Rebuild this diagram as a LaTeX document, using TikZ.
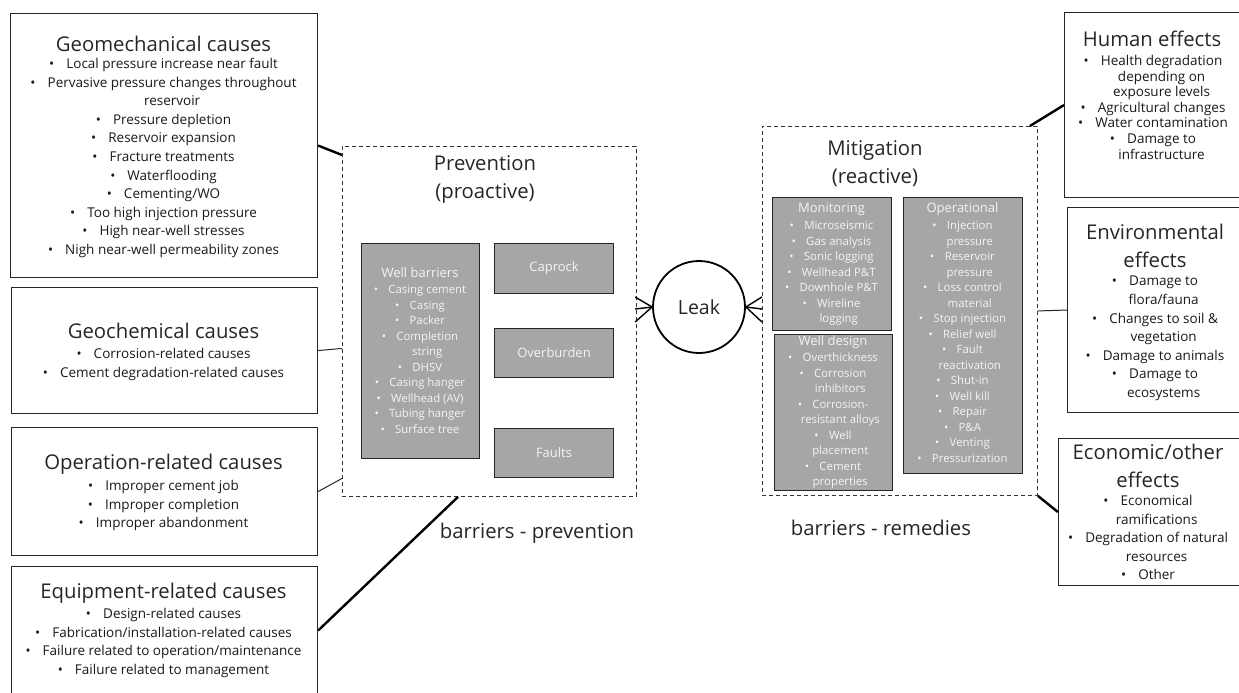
\documentclass[tikz,border=0pt]{standalone}
\usepackage{fontspec}
\setmainfont{Open Sans}
\definecolor{boxgray}{HTML}{A6A6A6}
\definecolor{boxtext}{HTML}{F4F4F4}
\newcommand{\bl}{\textbullet\hspace{0.9em}}
\newcommand{\cn}{\phantom{\bl}}

\begin{document}
\begin{tikzpicture}[x=1pt,y=-1pt,
  causebox/.style={draw=black!85, line width=1.1pt, anchor=north west, inner sep=0pt},
  dashbox/.style={draw=black!80, line width=0.9pt, dash pattern=on 4pt off 3pt, anchor=north west, inner sep=0pt},
  barrierbox/.style={draw=black!85, fill=boxgray, line width=1pt, anchor=north west, inner sep=0pt,
    text=boxtext, font=\fontsize{13}{16}\selectfont},
  headtxt/.style={font=\fontsize{20.3}{28}\selectfont, text=black!85, align=center, inner sep=0pt},
  listtxt/.style={font=\fontsize{13.5}{18.6}\selectfont, text=black!90, align=center, anchor=north, inner sep=0pt},
  graytitle/.style={font=\fontsize{13}{16}\selectfont, text=boxtext, inner sep=0pt},
  graylist/.style={font=\fontsize{11.4}{15.5}\selectfont, text=boxtext, align=center, anchor=north, inner sep=0pt},
  thinlink/.style={draw=black!85, line width=1pt},
  thicklink/.style={draw=black, line width=2.4pt},
  foot/.style={draw=black, line width=1.4pt}]
\useasboundingbox (0,0) rectangle (1239,693);

% Causes (left)
\node[causebox, minimum width=307pt, minimum height=264pt] (geomech) at (10,13) {};
\node[headtxt] at (163.5,44) {Geomechanical causes};
\node[listtxt] at (163.5,58) {\bl Local pressure increase near fault\\
  \bl Pervasive pressure changes throughout\\ \cn reservoir\\ \bl Pressure depletion\\
  \bl Reservoir expansion\\ \bl Fracture treatments\\ \bl Waterflooding\\ \bl Cementing/WO\\
  \bl Too high injection pressure\\ \bl High near-well stresses\\ \bl Nigh near-well permeability zones};

\node[causebox, minimum width=306pt, minimum height=126pt] (geochem) at (11,287) {};
\node[headtxt] at (163.5,331) {Geochemical causes};
\node[listtxt] at (163.5,348) {\bl Corrosion-related causes\\ \bl Cement degradation-related causes};

\node[causebox, minimum width=306pt, minimum height=128pt] (operation) at (11,427) {};
\node[headtxt] at (163.5,464) {Operation-related causes};
\node[listtxt] at (163.5,480) {\bl Improper cement job\\ \bl Improper completion\\ \bl Improper abandonment};

\node[causebox, minimum width=306pt, minimum height=128pt] (equipment) at (11,566) {};
\node[headtxt] at (163.5,593) {Equipment-related causes};
\node[listtxt] at (163.5,608) {\bl Design-related causes\\ \bl Fabrication/installation-related causes\\
  \bl Failure related to operation/maintenance\\ \bl Failure related to management};

% Prevention
\node[dashbox, minimum width=294pt, minimum height=350pt] (prevention) at (342,146) {};
\node[headtxt] at (485,179) {Prevention\\(proactive)};
\node[barrierbox, minimum width=118pt, minimum height=215pt] (wellbar) at (361,243) {};
\node[graytitle] at (420,273) {Well barriers};
\node[graylist] at (420,285) {\bl Casing cement\\ \bl Casing\\ \bl Packer\\ \bl Completion\\ \cn string\\
  \bl DHSV\\ \bl Casing hanger\\ \bl Wellhead (AV)\\ \bl Tubing hanger\\ \bl Surface tree};
\node[barrierbox, minimum width=119pt, minimum height=50pt] (caprock) at (494,243) {Caprock};
\node[barrierbox, minimum width=119pt, minimum height=49pt] (overburden) at (494,328) {Overburden};
\node[barrierbox, minimum width=119pt, minimum height=49pt] (faults) at (494,428) {Faults};
\node[font=\fontsize{20.3}{22}\selectfont, text=black!85] (prevlabel) at (537,533) {barriers - prevention};

% Leak
\node[circle, draw, line width=1.8pt, minimum size=92pt, inner sep=0pt,
  font=\fontsize{19.5}{22}\selectfont, text=black!85] (leak) at (699,307) {Leak};

% Mitigation
\node[dashbox, minimum width=275pt, minimum height=369pt] (mitigation) at (762,126) {};
\node[headtxt] at (875,164) {Mitigation\\(reactive)};
\node[barrierbox, minimum width=119pt, minimum height=133pt] (monitoring) at (772,197) {};
\node[graytitle] at (831.5,209) {Monitoring};
\node[graylist] at (831.5,221) {\bl Microseismic\\ \bl Gas analysis\\ \bl Sonic logging\\
  \bl Wellhead P\&T\\ \bl Downhole P\&T\\ \bl Wireline\\ \cn logging};
\node[barrierbox, minimum width=118pt, minimum height=156pt] (welldesign) at (774,334) {};
\node[graytitle] at (833,342) {Well design};
\node[graylist] at (833,353) {\bl Overthickness\\ \bl Corrosion\\ \cn inhibitors\\ \bl Corrosion-\\
  \cn resistant alloys\\ \bl Well\\ \cn placement\\ \bl Cement\\ \cn properties};
\node[barrierbox, minimum width=119pt, minimum height=276pt] (operational) at (903,197) {};
\node[graytitle] at (962.5,209) {Operational};
\node[graylist] at (962.5,221) {\bl Injection\\ \cn pressure\\ \bl Reservoir\\ \cn pressure\\ \bl Loss control\\
  \cn material\\ \bl Stop injection\\ \bl Relief well\\ \bl Fault\\ \cn reactivation\\ \bl Shut-in\\
  \bl Well kill\\ \bl Repair\\ \bl P\&A\\ \bl Venting\\ \bl Pressurization};
\node[font=\fontsize{20.3}{22}\selectfont, text=black!85] (mitlabel) at (881,528) {barriers - remedies};

% Effects (right)
\node[causebox, minimum width=178pt, minimum height=185pt] (human) at (1064,12) {};
\node[headtxt] at (1152,39) {Human effects};
\node[listtxt, font=\fontsize{13.5}{15.6}\selectfont] at (1153,55) {\bl Health degradation\\
  \cn depending on\\ \cn exposure levels\\ \bl Agricultural changes\\ \bl Water contamination\\
  \bl Damage to\\ \cn infrastructure};

\node[causebox, minimum width=175pt, minimum height=205pt] (environment) at (1067,207) {};
\node[headtxt] at (1155,246) {Environmental\\effects};
\node[listtxt] at (1155,276) {\bl Damage to\\ \cn flora/fauna\\ \bl Changes to soil \&\\ \cn vegetation\\
  \bl Damage to animals\\ \bl Damage to\\ \cn ecosystems};

\node[causebox, minimum width=184pt, minimum height=147pt] (economic) at (1058,438) {};
\node[headtxt] at (1148,466) {Economic/other\\effects};
\node[listtxt] at (1148,495) {\bl Economical\\ \cn ramifications\\ \bl Degradation of natural\\
  \cn resources\\ \bl Other};

% Links
\draw[thicklink] (geomech.east) -- ([yshift=-9pt]prevention.north west);
\draw[thinlink] (geochem.east) -- ([yshift=-27pt]prevention.west);
\draw[thinlink] (operation.east) -- ([yshift=-157pt]prevention.west);
\draw[thicklink] (equipment.east) -- ([xshift=116pt]prevention.south west);
\draw[thicklink] ([xshift=-8pt]mitigation.north east) -- (human.west);
\draw[thinlink] (mitigation.east) -- (environment.west);
\draw[thicklink] (mitigation.south east) -- (economic.west);

% Crow's feet at the leak
\foreach \dy in {10,-2,-15} {
  \draw[foot] (leak.west) -- ([xshift=-17pt,yshift=\dy pt]leak.west);
  \draw[foot] (leak.east) -- ([xshift=16pt,yshift=\dy pt]leak.east);
}
\end{tikzpicture}
\end{document}
